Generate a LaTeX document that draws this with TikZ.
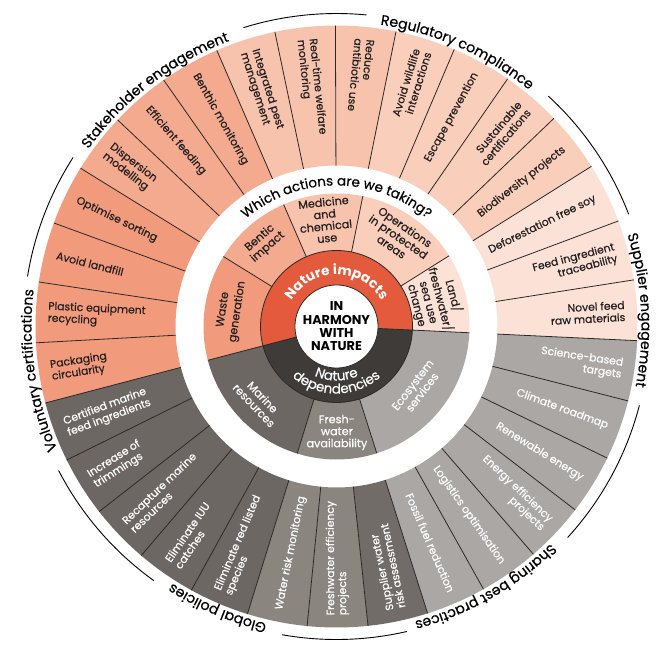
\documentclass[tikz,border=0pt]{standalone}
\usepackage{fontspec}
\setmainfont{Poppins}
\newfontfamily\lbl{Poppins}[FakeBold=0.45]
\usetikzlibrary{decorations.text}
\definecolor{pkA}{HTML}{F29B7C}
\definecolor{pkB}{HTML}{F4AA8E}
\definecolor{pkC}{HTML}{F7C3AD}
\definecolor{pkD}{HTML}{F9CEBA}
\definecolor{pkE}{HTML}{FCE2D6}
\definecolor{gyA}{HTML}{6C6762}
\definecolor{gyB}{HTML}{8B8580}
\definecolor{gyC}{HTML}{716C67}
\definecolor{gyD}{HTML}{ABA7A4}
\definecolor{redI}{HTML}{E35A3D}
\definecolor{darkI}{HTML}{3E3B38}
\definecolor{lineC}{HTML}{2B2826}
\definecolor{txtD}{HTML}{231F20}
\newcommand\catfont{\lbl\fontsize{14.1}{16}\selectfont}
\newcommand\olab[4]{%
  \pgfmathsetmacro\olm{-2.7+(#1+0.5)*360/31}%
  \ifnum#2=0
    \node[olabel,text=#3,anchor=east,align=right,rotate=\olm] (o#1) at (\olm:289pt) {#4};
  \else
    \pgfmathsetmacro\olr{\olm+180}%
    \node[olabel,text=#3,anchor=west,align=left,rotate=\olr] (o#1) at (\olm:289pt) {#4};
  \fi}
\newcommand\ring[5]{% color, a1, a2, r1, r2
  \fill[#1] (#2:#4pt) arc[start angle=#2,end angle=#3,radius=#4pt] -- (#3:#5pt) arc[start angle=#3,end angle=#2,radius=#5pt] -- cycle;}
\begin{document}
\begin{tikzpicture}[
  olabel/.style={inner sep=0pt,font=\lbl\fontsize{10.8}{12}\selectfont},
  mlabel/.style={inner sep=0pt,align=center,font=\lbl\fontsize{11.2}{12}\selectfont},
  divider/.style={draw=lineC,line width=0.8pt},
  catarc/.style={draw=black,line width=0.9pt},
]
\useasboundingbox (-336.5pt,-318.5pt) rectangle (332.5pt,326.5pt);
\fill[white] (-336.5pt,-318.5pt) rectangle (332.5pt,326.5pt);
% outer ring sectors
\foreach \k/\c in {0/pkE,1/pkE,2/pkE,3/pkD,4/pkD,5/pkD,6/pkD,7/pkC,8/pkC,9/pkC,10/pkB,11/pkB,12/pkB,13/pkA,14/pkA,15/pkA,16/pkA,17/gyA,18/gyA,19/gyA,20/gyA,21/gyA,22/gyB,23/gyB,24/gyC,25/gyD,26/gyD,27/gyD,28/gyD,29/gyD,30/gyD}{
  \pgfmathsetmacro\sa{-2.7+\k*360/31}
  \pgfmathsetmacro\sb{\sa+360/31}
  \ring{\c}{\sa}{\sb}{161}{301}
}
\foreach \k in {0,...,30}{
  \pgfmathsetmacro\sa{-2.7+\k*360/31}
  \draw[divider] (\sa:161pt) -- (\sa:301pt);
}
% middle ring
\ring{pkE}{-2.7}{32.14}{76}{133}
\ring{pkD}{32.14}{78.59}{76}{133}
\ring{pkC}{78.59}{113.43}{76}{133}
\ring{pkB}{113.43}{148.27}{76}{133}
\ring{pkA}{148.27}{194.72}{76}{133}
\ring{gyA}{194.72}{252.79}{76}{133}
\ring{gyB}{252.79}{287.63}{76}{133}
\ring{gyD}{287.63}{357.3}{76}{133}
\foreach \a in {-2.7,32.14,78.59,113.43,148.27,194.72,252.79,287.63}{
  \draw[divider] (\a:76pt) -- (\a:133pt);
}
% inner ring
\ring{redI}{-2.7}{194.72}{40}{76}
\ring{darkI}{194.72}{357.3}{40}{76}
\draw[divider] (-2.7:40pt) -- (-2.7:76pt);
\draw[divider] (194.72:40pt) -- (194.72:76pt);
\draw[divider] (0,0) circle[radius=76pt];
\node[circle,fill=white,draw=lineC,line width=0.8pt,minimum size=80pt,inner sep=0pt,align=center,
  font=\fontsize{12.8}{13.3}\selectfont\bfseries,text=black] (core) at (0,0) {IN\\HARMONY\\WITH\\NATURE};
% inner ring texts
\path[decorate,decoration={text along path,text align=center,text color=white,
  text={|\fontsize{13.5}{14}\selectfont\bfseries|Nature impacts}}]
  (175:52pt) arc[start angle=175,end angle=5,radius=52pt];
\path[decorate,decoration={text along path,text align=center,text color=white,
  text={|\lbl\fontsize{13.5}{14}\selectfont|Nature}}]
  (200:54pt) arc[start angle=200,end angle=340,radius=54pt];
\path[decorate,decoration={text along path,text align=center,text color=white,
  text={|\lbl\fontsize{13.5}{14}\selectfont|dependencies}}]
  (195:67pt) arc[start angle=195,end angle=345,radius=67pt];
% which actions
\path[decorate,decoration={text along path,text align=center,text color=black,
  text={|\lbl\fontsize{13.5}{14}\selectfont|Which actions are we taking?}}]
  (170:141pt) arc[start angle=170,end angle=10,radius=141pt];
% middle labels
\node[mlabel,text=txtD,rotate=-75.3] (mland) at (14.7:102pt) {Land/\\freshwater/\\sea use\\change};
\node[mlabel,text=txtD,rotate=-34.6] (mops) at (55.4:109pt) {Operations\\in protected\\areas};
\node[mlabel,text=txtD,rotate=6] (mmed) at (96:107pt) {Medicine\\and\\chemical\\use};
\node[mlabel,text=txtD,rotate=40.85] (mben) at (130.85:111pt) {Bentic\\impact};
\node[mlabel,text=txtD,rotate=81.5,font=\lbl\fontsize{11.2}{14.5}\selectfont] (mwaste) at (171.5:107pt) {Waste\\generation};
\node[mlabel,text=white,rotate=313.75] (mmar) at (223.75:108pt) {Marine\\resources};
\node[mlabel,text=white,rotate=0.2] (mfresh) at (270.2:106pt) {Fresh-\\water\\availability};
\node[mlabel,text=white,rotate=412.5] (meco) at (322.5:102pt) {Ecosystem\\services};
% outer labels
\olab{0}{0}{txtD}{Novel feed\\raw materials}
\olab{1}{0}{txtD}{Feed ingredient\\traceability}
\olab{2}{0}{txtD}{Deforestation free soy}
\olab{3}{0}{txtD}{Biodiversity projects}
\olab{4}{0}{txtD}{Sustainable\\certifications}
\olab{5}{0}{txtD}{Escape prevention}
\olab{6}{0}{txtD}{Avoid wildlife\\interactions}
\olab{7}{1}{txtD}{Reduce\\antibiotic use}
\olab{8}{1}{txtD}{Real-time welfare\\monitoring}
\olab{9}{1}{txtD}{Integrated pest\\management}
\olab{10}{1}{txtD}{Benthic monitoring}
\olab{11}{1}{txtD}{Efficient feeding}
\olab{12}{1}{txtD}{Dispersion\\modelling}
\olab{13}{1}{txtD}{Optimise sorting}
\olab{14}{1}{txtD}{Avoid landfill}
\olab{15}{1}{txtD}{Plastic equipment\\recycling}
\olab{16}{1}{txtD}{Packaging\\circularity}
\olab{17}{1}{white}{Certified marine\\feed ingredients}
\olab{18}{1}{white}{Increase of\\trimmings}
\olab{19}{1}{white}{Recapture marine\\resources}
\olab{20}{1}{white}{Eliminate IUU\\catches}
\olab{21}{1}{white}{Eliminate red listed\\species}
\olab{22}{1}{white}{Water risk monitoring}
\olab{23}{1}{white}{Freshwater efficiency\\projects}
\olab{24}{1}{white}{Supplier water\\risk assessment}
\olab{25}{0}{white}{Fossil fuel reduction}
\olab{26}{0}{white}{Logistics optimisation}
\olab{27}{0}{white}{Energy efficiency\\projects}
\olab{28}{0}{white}{Renewable energy}
\olab{29}{0}{white}{Climate roadmap}
\olab{30}{0}{white}{Science-based\\targets}
% category arcs
\draw[catarc] (107.3:313pt) arc[start angle=107.3,end angle=84.5,radius=313pt];
\draw[catarc] (47.4:313pt) arc[start angle=47.4,end angle=21,radius=313pt];
\draw[catarc] (-14.6:313pt) arc[start angle=-14.6,end angle=-42.4,radius=313pt];
\draw[catarc] (-77:313pt) arc[start angle=-77,end angle=-100,radius=313pt];
\draw[catarc] (-125.7:313pt) arc[start angle=-125.7,end angle=-152.6,radius=313pt];
\draw[catarc] (170.8:313pt) arc[start angle=170.8,end angle=147.3,radius=313pt];
% category labels
\path[decorate,decoration={text along path,text align=center,text={|\catfont|Stakeholder engagement}}]
  (167.5:305pt) arc[start angle=167.5,end angle=87.5,radius=305pt];
\path[decorate,decoration={text along path,text align=center,text={|\catfont|Regulatory compliance}}]
  (106.3:305pt) arc[start angle=106.3,end angle=26.3,radius=305pt];
\path[decorate,decoration={text along path,text align=center,text={|\catfont|Supplier engagement}}]
  (43.1:305pt) arc[start angle=43.1,end angle=-36.9,radius=305pt];
\path[decorate,decoration={text along path,text align=center,text={|\catfont|Sharing best practices}}]
  (-20.25:305pt) arc[start angle=-20.25,end angle=-100.25,radius=305pt];
\path[decorate,decoration={text along path,text align=center,text={|\catfont|Global policies}}]
  (-72.9:305pt) arc[start angle=-72.9,end angle=-152.9,radius=305pt];
\path[decorate,decoration={text along path,text align=center,text={|\catfont|Voluntary certifications}}]
  (228.4:305pt) arc[start angle=228.4,end angle=148.4,radius=305pt];
\end{tikzpicture}
\end{document}
